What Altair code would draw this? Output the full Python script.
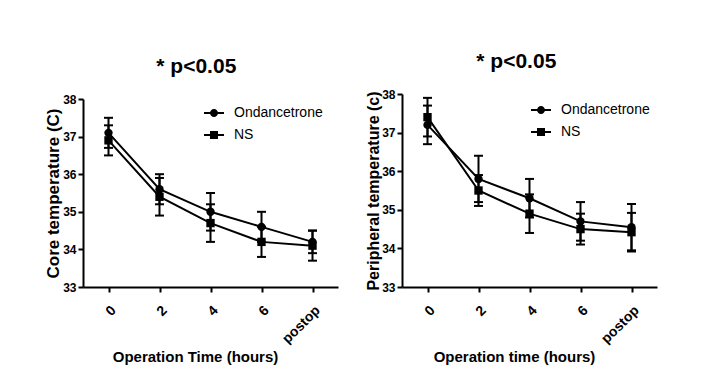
import altair as alt
import pandas as pd

times = ["0", "2", "4", "6", "postop"]
groups = ["Ondancetrone", "NS"]

core_ond = [37.1, 35.6, 35.0, 34.6, 34.2]
core_ond_err = [0.4, 0.4, 0.5, 0.4, 0.3]
core_ns = [36.9, 35.4, 34.7, 34.2, 34.1]
core_ns_err = [0.4, 0.5, 0.5, 0.4, 0.4]

per_ond = [37.2, 35.8, 35.3, 34.7, 34.55]
per_ond_err = [0.5, 0.6, 0.5, 0.5, 0.6]
per_ns = [37.4, 35.5, 34.9, 34.5, 34.42]
per_ns_err = [0.5, 0.4, 0.5, 0.4, 0.5]

y_ticks = [33, 34, 35, 36, 37, 38]

FONT = "Liberation Sans"
BAR = "M-1,-0.1H-0.3V0.1H-1Z M0.3,-0.1H1V0.1H0.3Z "
CIRCLE_LINE = BAR + "M0.4,0A0.4,0.4,0,1,1,-0.4,0A0.4,0.4,0,1,1,0.4,0Z"
SQUARE_LINE = BAR + "M-0.4,-0.4H0.4V0.4H-0.4Z"

H = 193


def make_df(ond, ond_err, ns, ns_err):
    rows = []
    for g, means, errs in [("Ondancetrone", ond, ond_err), ("NS", ns, ns_err)]:
        for t, m, e in zip(times, means, errs):
            rows.append({"time": t, "group": g, "mean": m, "lo": m - e, "hi": m + e})
    return pd.DataFrame(rows)


def panel(df, ytitle, ytitle_size, xtitle, top_gap, lx, ly):
    x = alt.X("time:N", sort=times, scale=alt.Scale(type="point", padding=0.5),
              axis=alt.Axis(title=xtitle, labelAngle=-45, labelFontSize=14,
                            labelPadding=11, titleFontSize=15, titleX=112, titleY=74,
                            titleAlign="center", titleBaseline="alphabetic"))
    yscale = alt.Scale(domain=[33, 38], nice=False, zero=False, range=[H, top_gap])
    yaxis = alt.Axis(title=ytitle, values=y_ticks, format="d", labelFontSize=12,
                     labelPadding=2, titleFontSize=ytitle_size, titlePadding=0,
                     labelOverlap=False)
    base = alt.Chart(df)
    lines = base.mark_line(color="black", strokeWidth=2).encode(
        x=x, y=alt.Y("mean:Q", scale=yscale, axis=yaxis), detail="group:N")
    rules = base.mark_rule(color="black", strokeWidth=2, opacity=1).encode(
        x=x, y=alt.Y("lo:Q", scale=yscale, axis=yaxis), y2="hi:Q")
    cap_lo = base.mark_tick(color="black", size=9, thickness=2, opacity=1).encode(
        x=x, y=alt.Y("lo:Q", scale=yscale, axis=yaxis))
    cap_hi = base.mark_tick(color="black", size=9, thickness=2, opacity=1).encode(
        x=x, y=alt.Y("hi:Q", scale=yscale, axis=yaxis))
    pts = base.mark_point(filled=True, color="black", opacity=1, size=70).encode(
        x=x, y=alt.Y("mean:Q", scale=yscale, axis=yaxis),
        shape=alt.Shape("group:N", scale=alt.Scale(domain=groups, range=["circle", "square"]),
                        legend=None))
    leg = base.transform_filter("false").mark_point(
        filled=True, color="black", opacity=1).encode(
        x=x, y=alt.Y("mean:Q", scale=yscale, axis=yaxis),
        shape=alt.Shape("group:N",
                        scale=alt.Scale(domain=groups, range=[CIRCLE_LINE, SQUARE_LINE]),
                        legend=alt.Legend(title=None, orient="none", legendX=lx, legendY=ly,
                                          symbolSize=400, symbolStrokeWidth=0,
                                          symbolFillColor="black", symbolOpacity=1,
                                          labelFont=FONT, labelFontSize=14, labelColor="black",
                                          labelOffset=10, rowPadding=5)))
    return alt.layer(lines, rules, cap_lo, cap_hi, pts, leg).resolve_scale(
        shape="independent").properties(
        width=255, height=H,
        title=alt.TitleParams("* p<0.05", font=FONT, fontSize=21, fontWeight="bold",
                              color="black", anchor="middle", frame="bounds",
                              baseline="alphabetic", offset=-1, dx=5))


left = panel(make_df(core_ond, core_ond_err, core_ns, core_ns_err),
             "Core temperature (C)", 17, "Operation Time (hours)", 5, 121, 9)
right = panel(make_df(per_ond, per_ond_err, per_ns, per_ns_err),
              "Peripheral temperature (c)", 16, "Operation time (hours)", 0, 129, 6)

chart = alt.concat(left, right, columns=2, align="none", spacing=26).properties(
    padding={"left": 36, "top": 42, "right": 0, "bottom": 0},
    background="white",
).configure_view(stroke="transparent").configure_axis(
    domainColor="black", domainWidth=2, tickColor="black", tickWidth=2, tickSize=5,
    labelColor="black", labelFont=FONT, labelFontWeight="bold",
    titleColor="black", titleFont=FONT, titleFontWeight="bold", grid=False,
)

chart.save("out.html", embed_options={"renderer": "svg", "actions": False})
